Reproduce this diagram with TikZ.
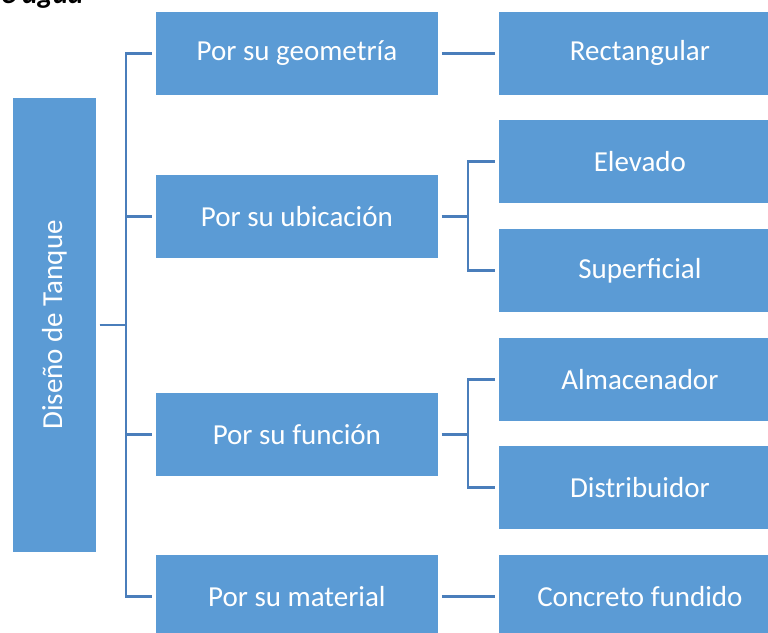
\documentclass[tikz,border=0pt]{standalone}
\usepackage{fontspec}
\setmainfont{Carlito}
\begin{document}
\begin{tikzpicture}[x=1pt,y=-1pt,
  box/.style={fill=boxblue,draw=white,line width=0.8pt,text=white,font=\fontsize{29}{34}\selectfont,
    minimum width=283pt,minimum height=84pt,anchor=north west,inner sep=0pt},
  conn/.style={draw=lineblue,line width=2.6pt,shorten <=3pt,shorten >=3pt}]
\definecolor{boxblue}{HTML}{5B9BD5}
\definecolor{lineblue}{HTML}{4A7EBB}
\useasboundingbox[fill=white] (0,0) rectangle (768,632);
\begin{scope}
\clip (0,0) rectangle (768,632);
\node[anchor=base west,inner sep=0pt,font=\fontsize{29}{34}\selectfont\bfseries\itshape] (title) at (-14,3) {de agua};
\node[box,minimum width=84pt,minimum height=455pt] (root) at (12,97) {};
\node[text=white,font=\fontsize{29}{34}\selectfont,rotate=90] (rootlabel) at (root.center) {Diseño de Tanque};
\node[box] (g) at (155,11) {Por su geometría};
\node[box] (u) at (155,174) {Por su ubicación};
\node[box] (f) at (155,392) {Por su función};
\node[box] (m) at (155,554) {Por su material};
\node[box] (r) at (498,11) {Rectangular};
\node[box] (e) at (498,119) {Elevado};
\node[box] (s) at (498,228) {Superficial};
\node[box] (a) at (498,337) {Almacenador};
\node[box] (d) at (498,445) {Distribuidor};
\node[box] (c) at (498,554) {Concreto fundido};
\end{scope}
\foreach \t in {g,u,f,m} \draw[conn] (root.east) -- ++(29,0) |- (\t.west);
\draw[conn] (g.east) -- (r.west);
\foreach \t in {e,s} \draw[conn] (u.east) -- ++(29,0) |- (\t.west);
\foreach \t in {a,d} \draw[conn] (f.east) -- ++(29,0) |- (\t.west);
\draw[conn] (m.east) -- (c.west);
\end{tikzpicture}
\end{document}
